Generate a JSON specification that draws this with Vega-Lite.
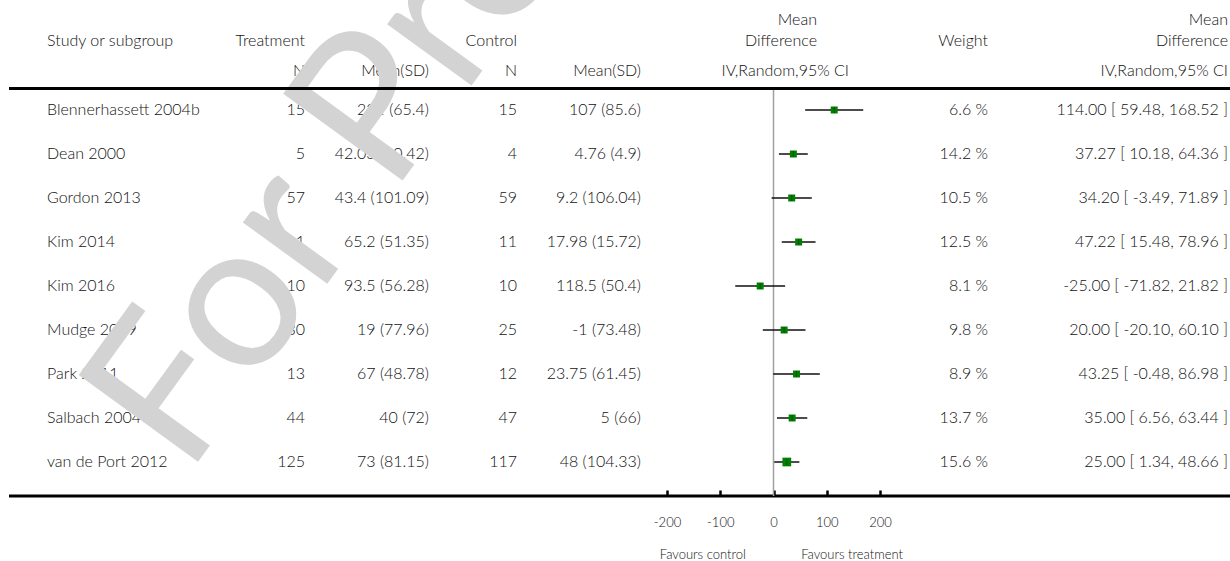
{
  "$schema": "https://vega.github.io/schema/vega-lite/v6.json",
  "width": 1230,
  "height": 561,
  "autosize": {"type": "none"},
  "padding": 0,
  "background": "white",
  "config": {
    "view": {"stroke": null},
    "axisX": {"domain": false, "grid": false, "ticks": true, "tickColor": "#000", "tickWidth": 2.5, "tickSize": 6, "labelFont": "Lato", "labelFontWeight": 300, "labelFontSize": 13, "labelColor": "#111", "labelPadding": 20, "labelFlush": false, "labelOverlap": false, "labelExpr": "'' + datum.value", "title": null}
  },
  "datasets": {
    "studies": [
      {"study": "Blennerhassett 2004b", "tN": "15", "tM": "221 (65.4)", "cN": "15", "cM": "107 (85.6)", "wt": "6.6 %", "ci": "114.00 [ 59.48, 168.52 ]", "md": 114, "lo": 59.48, "hi": 168.52, "w": 6.6},
      {"study": "Dean 2000", "tN": "5", "tM": "42.03 (30.42)", "cN": "4", "cM": "4.76 (4.9)", "wt": "14.2 %", "ci": "37.27 [ 10.18, 64.36 ]", "md": 37.27, "lo": 10.18, "hi": 64.36, "w": 14.2},
      {"study": "Gordon 2013", "tN": "57", "tM": "43.4 (101.09)", "cN": "59", "cM": "9.2 (106.04)", "wt": "10.5 %", "ci": "34.20 [ -3.49, 71.89 ]", "md": 34.2, "lo": -3.49, "hi": 71.89, "w": 10.5},
      {"study": "Kim 2014", "tN": "11", "tM": "65.2 (51.35)", "cN": "11", "cM": "17.98 (15.72)", "wt": "12.5 %", "ci": "47.22 [ 15.48, 78.96 ]", "md": 47.22, "lo": 15.48, "hi": 78.96, "w": 12.5},
      {"study": "Kim 2016", "tN": "10", "tM": "93.5 (56.28)", "cN": "10", "cM": "118.5 (50.4)", "wt": "8.1 %", "ci": "-25.00 [ -71.82, 21.82 ]", "md": -25, "lo": -71.82, "hi": 21.82, "w": 8.1},
      {"study": "Mudge 2009", "tN": "30", "tM": "19 (77.96)", "cN": "25", "cM": "-1 (73.48)", "wt": "9.8 %", "ci": "20.00 [ -20.10, 60.10 ]", "md": 20, "lo": -20.1, "hi": 60.1, "w": 9.8},
      {"study": "Park 2011", "tN": "13", "tM": "67 (48.78)", "cN": "12", "cM": "23.75 (61.45)", "wt": "8.9 %", "ci": "43.25 [ -0.48, 86.98 ]", "md": 43.25, "lo": -0.48, "hi": 86.98, "w": 8.9},
      {"study": "Salbach 2004", "tN": "44", "tM": "40 (72)", "cN": "47", "cM": "5 (66)", "wt": "13.7 %", "ci": "35.00 [ 6.56, 63.44 ]", "md": 35, "lo": 6.56, "hi": 63.44, "w": 13.7},
      {"study": "van de Port 2012", "tN": "125", "tM": "73 (81.15)", "cN": "117", "cM": "48 (104.33)", "wt": "15.6 %", "ci": "25.00 [ 1.34, 48.66 ]", "md": 25, "lo": 1.34, "hi": 48.66, "w": 15.6}
    ],
    "head": [
      {"line": "2", "col": "name", "text": "Study or subgroup"},
      {"line": "2", "col": "tN", "text": "Treatment"},
      {"line": "3", "col": "tN", "text": "N"},
      {"line": "3", "col": "tM", "text": "Mean(SD)"},
      {"line": "2", "col": "cN", "text": "Control"},
      {"line": "3", "col": "cN", "text": "N"},
      {"line": "3", "col": "cM", "text": "Mean(SD)"},
      {"line": "1", "col": "md", "text": "Mean"},
      {"line": "2", "col": "md", "text": "Difference"},
      {"line": "3", "col": "iv", "text": "IV,Random,95% CI"},
      {"line": "2", "col": "wt", "text": "Weight"},
      {"line": "1", "col": "ci", "text": "Mean"},
      {"line": "2", "col": "ci", "text": "Difference"},
      {"line": "3", "col": "ci", "text": "IV,Random,95% CI"}
    ],
    "frame": [{"edge": "top"}, {"edge": "bottom"}],
    "mark": [{"label": "For Preview"}],
    "favours": [{"side": "control", "label": "Favours control"}, {"side": "treatment", "label": "Favours treatment"}]
  },
  "layer": [
    {
      "data": {"name": "head"},
      "transform": [{"filter": "datum.col === 'name'"}],
      "mark": {"type": "text", "align": "left", "baseline": "middle", "font": "Lato", "fontWeight": 300, "fontSize": 16, "color": "#111"},
      "encoding": {
        "x": {"field": "col", "type": "nominal", "scale": {"type": "point", "domain": ["name"], "range": [47, 47], "padding": 0}, "axis": null},
        "y": {"field": "line", "type": "nominal", "scale": {"type": "point", "domain": ["2", "3"], "range": [41, 71], "padding": 0}, "axis": null},
        "text": {"field": "text"}
      }
    },
    {
      "data": {"name": "head"},
      "transform": [{"filter": "datum.col === 'tN' || datum.col === 'tM'"}],
      "mark": {"type": "text", "align": "right", "baseline": "middle", "font": "Lato", "fontWeight": 300, "fontSize": 16, "color": "#111"},
      "encoding": {
        "x": {"field": "col", "type": "nominal", "scale": {"type": "point", "domain": ["tN", "tM"], "range": [305, 429], "padding": 0}, "axis": null},
        "y": {"field": "line", "type": "nominal", "scale": {"type": "point", "domain": ["2", "3"], "range": [41, 71], "padding": 0}, "axis": null},
        "text": {"field": "text"}
      }
    },
    {
      "data": {"name": "head"},
      "transform": [{"filter": "datum.col === 'cN' || datum.col === 'cM'"}],
      "mark": {"type": "text", "align": "right", "baseline": "middle", "font": "Lato", "fontWeight": 300, "fontSize": 16, "color": "#111"},
      "encoding": {
        "x": {"field": "col", "type": "nominal", "scale": {"type": "point", "domain": ["cN", "cM"], "range": [517, 641], "padding": 0}, "axis": null},
        "y": {"field": "line", "type": "nominal", "scale": {"type": "point", "domain": ["2", "3"], "range": [41, 71], "padding": 0}, "axis": null},
        "text": {"field": "text"}
      }
    },
    {
      "data": {"name": "head"},
      "transform": [{"filter": "(datum.col === 'md' || datum.col === 'iv') && datum.line !== '1'"}],
      "mark": {"type": "text", "align": "right", "baseline": "middle", "font": "Lato", "fontWeight": 300, "fontSize": 16, "color": "#111"},
      "encoding": {
        "x": {"field": "col", "type": "nominal", "scale": {"type": "point", "domain": ["md", "iv"], "range": [817, 849], "padding": 0}, "axis": null},
        "y": {"field": "line", "type": "nominal", "scale": {"type": "point", "domain": ["2", "3"], "range": [41, 71], "padding": 0}, "axis": null},
        "text": {"field": "text"}
      }
    },
    {
      "data": {"name": "head"},
      "transform": [{"filter": "(datum.col === 'wt' || datum.col === 'ci') && datum.line !== '1'"}],
      "mark": {"type": "text", "align": "right", "baseline": "middle", "font": "Lato", "fontWeight": 300, "fontSize": 16, "color": "#111"},
      "encoding": {
        "x": {"field": "col", "type": "nominal", "scale": {"type": "point", "domain": ["wt", "ci"], "range": [988, 1228], "padding": 0}, "axis": null},
        "y": {"field": "line", "type": "nominal", "scale": {"type": "point", "domain": ["2", "3"], "range": [41, 71], "padding": 0}, "axis": null},
        "text": {"field": "text"}
      }
    },
    {
      "data": {"name": "head"},
      "transform": [{"filter": "datum.line === '1'"}],
      "mark": {"type": "text", "align": "right", "baseline": "middle", "font": "Lato", "fontWeight": 300, "fontSize": 16, "color": "#111"},
      "encoding": {
        "x": {"field": "col", "type": "nominal", "scale": {"type": "point", "domain": ["md", "ci"], "range": [817, 1228], "padding": 0}, "axis": null},
        "y": {"field": "line", "type": "nominal", "scale": {"type": "point", "domain": ["1"], "range": [20, 20], "padding": 0}, "axis": null},
        "text": {"field": "text"}
      }
    },
    {
      "data": {"name": "studies"},
      "mark": {"type": "text", "align": "left", "baseline": "middle", "font": "Lato", "fontWeight": 300, "fontSize": 16, "color": "#111"},
      "encoding": {
        "x": {"datum": "name", "type": "nominal", "scale": {"type": "point", "domain": ["name"], "range": [47, 47], "padding": 0}, "axis": null},
        "y": {"field": "study", "type": "nominal", "scale": {"type": "point", "domain": ["Blennerhassett 2004b", "Dean 2000", "Gordon 2013", "Kim 2014", "Kim 2016", "Mudge 2009", "Park 2011", "Salbach 2004", "van de Port 2012"], "range": [110, 462], "padding": 0}, "axis": null},
        "text": {"field": "study"}
      }
    },
    {
      "data": {"name": "studies"},
      "transform": [{"fold": ["tN", "tM"], "as": ["col", "txt"]}],
      "mark": {"type": "text", "align": "right", "baseline": "middle", "font": "Lato", "fontWeight": 300, "fontSize": 16, "color": "#111"},
      "encoding": {
        "x": {"field": "col", "type": "nominal", "scale": {"type": "point", "domain": ["tN", "tM"], "range": [305, 429], "padding": 0}, "axis": null},
        "y": {"field": "study", "type": "nominal", "scale": {"type": "point", "domain": ["Blennerhassett 2004b", "Dean 2000", "Gordon 2013", "Kim 2014", "Kim 2016", "Mudge 2009", "Park 2011", "Salbach 2004", "van de Port 2012"], "range": [110, 462], "padding": 0}, "axis": null},
        "text": {"field": "txt"}
      }
    },
    {
      "data": {"name": "studies"},
      "transform": [{"fold": ["cN", "cM"], "as": ["col", "txt"]}],
      "mark": {"type": "text", "align": "right", "baseline": "middle", "font": "Lato", "fontWeight": 300, "fontSize": 16, "color": "#111"},
      "encoding": {
        "x": {"field": "col", "type": "nominal", "scale": {"type": "point", "domain": ["cN", "cM"], "range": [517, 641], "padding": 0}, "axis": null},
        "y": {"field": "study", "type": "nominal", "scale": {"type": "point", "domain": ["Blennerhassett 2004b", "Dean 2000", "Gordon 2013", "Kim 2014", "Kim 2016", "Mudge 2009", "Park 2011", "Salbach 2004", "van de Port 2012"], "range": [110, 462], "padding": 0}, "axis": null},
        "text": {"field": "txt"}
      }
    },
    {
      "data": {"name": "studies"},
      "transform": [{"fold": ["wt", "ci"], "as": ["col", "txt"]}],
      "mark": {"type": "text", "align": "right", "baseline": "middle", "font": "Lato", "fontWeight": 300, "fontSize": 16, "color": "#111"},
      "encoding": {
        "x": {"field": "col", "type": "nominal", "scale": {"type": "point", "domain": ["wt", "ci"], "range": [988, 1228], "padding": 0}, "axis": null},
        "y": {"field": "study", "type": "nominal", "scale": {"type": "point", "domain": ["Blennerhassett 2004b", "Dean 2000", "Gordon 2013", "Kim 2014", "Kim 2016", "Mudge 2009", "Park 2011", "Salbach 2004", "van de Port 2012"], "range": [110, 462], "padding": 0}, "axis": null},
        "text": {"field": "txt"}
      }
    },
    {
      "data": {"name": "mark"},
      "mark": {"type": "text", "align": "left", "baseline": "alphabetic", "angle": -54, "font": "Lato", "fontSize": 206, "color": "#d3d3d3"},
      "encoding": {
        "x": {"datum": "wm", "type": "nominal", "scale": {"type": "point", "domain": ["wm"], "range": [187, 187], "padding": 0}, "axis": null},
        "y": {"datum": "wm", "type": "nominal", "scale": {"type": "point", "domain": ["wm"], "range": [477, 477], "padding": 0}, "axis": null},
        "text": {"field": "label"}
      }
    },
    {
      "data": {"name": "frame"},
      "mark": {"type": "rule", "color": "#000", "strokeWidth": 3},
      "encoding": {
        "x": {"datum": "left", "type": "nominal", "scale": {"type": "point", "domain": ["left", "right"], "range": [9, 1230], "padding": 0}, "axis": null},
        "x2": {"datum": "right"},
        "y": {"field": "edge", "type": "nominal", "scale": {"type": "point", "domain": ["top", "bottom"], "range": [88.5, 496], "padding": 0}, "axis": null}
      }
    },
    {
      "data": {"name": "studies"},
      "layer": [
        {
          "data": {"name": "frame"},
          "transform": [{"filter": "datum.edge === 'top'"}],
          "mark": {"type": "rule", "color": "#a0a0a0", "strokeWidth": 1.5},
          "encoding": {
            "x": {"datum": 0, "type": "quantitative", "scale": {"domain": [-200, 200], "range": [667, 880], "nice": false, "zero": false}, "axis": {"values": [-200, -100, 0, 100, 200], "orient": "bottom", "offset": -71}},
            "y": {"datum": "top", "type": "nominal", "scale": {"type": "point", "domain": ["top", "bottom"], "range": [90, 496], "padding": 0}, "axis": null},
            "y2": {"datum": "bottom"}
          }
        },
        {
          "mark": {"type": "rule", "color": "#111", "strokeWidth": 1.5},
          "encoding": {
            "x": {"field": "lo", "type": "quantitative", "scale": {"domain": [-200, 200], "range": [667, 880], "nice": false, "zero": false}, "axis": {"values": [-200, -100, 0, 100, 200], "orient": "bottom", "offset": -71}},
            "x2": {"field": "hi"},
            "y": {"field": "study", "type": "nominal", "scale": {"type": "point", "domain": ["Blennerhassett 2004b", "Dean 2000", "Gordon 2013", "Kim 2014", "Kim 2016", "Mudge 2009", "Park 2011", "Salbach 2004", "van de Port 2012"], "range": [110, 462], "padding": 0}, "axis": null}
          }
        },
        {
          "mark": {"type": "square", "filled": true, "color": "#008000", "opacity": 1},
          "encoding": {
            "x": {"field": "md", "type": "quantitative", "scale": {"domain": [-200, 200], "range": [667, 880], "nice": false, "zero": false}, "axis": {"values": [-200, -100, 0, 100, 200], "orient": "bottom", "offset": -71}},
            "y": {"field": "study", "type": "nominal", "scale": {"type": "point", "domain": ["Blennerhassett 2004b", "Dean 2000", "Gordon 2013", "Kim 2014", "Kim 2016", "Mudge 2009", "Park 2011", "Salbach 2004", "van de Port 2012"], "range": [110, 462], "padding": 0}, "axis": null},
            "size": {"field": "w", "type": "quantitative", "scale": {"type": "threshold", "domain": [15], "range": [49, 76]}, "legend": null}
          }
        },
        {
          "mark": {"type": "tick", "orient": "vertical", "color": "#0b3b0b", "thickness": 1, "size": 6},
          "encoding": {
            "x": {"field": "md", "type": "quantitative", "scale": {"domain": [-200, 200], "range": [667, 880], "nice": false, "zero": false}, "axis": {"values": [-200, -100, 0, 100, 200], "orient": "bottom", "offset": -71}},
            "y": {"field": "study", "type": "nominal", "scale": {"type": "point", "domain": ["Blennerhassett 2004b", "Dean 2000", "Gordon 2013", "Kim 2014", "Kim 2016", "Mudge 2009", "Park 2011", "Salbach 2004", "van de Port 2012"], "range": [110, 462], "padding": 0}, "axis": null}
          }
        },
        {
          "data": {"name": "favours"},
          "transform": [{"filter": "datum.side === 'control'"}],
          "mark": {"type": "text", "align": "right", "baseline": "middle", "font": "Lato", "fontWeight": 300, "fontSize": 13, "color": "#111"},
          "encoding": {
            "x": {"datum": -52, "type": "quantitative", "scale": {"domain": [-200, 200], "range": [667, 880], "nice": false, "zero": false}, "axis": {"values": [-200, -100, 0, 100, 200], "orient": "bottom", "offset": -71}},
            "y": {"datum": "fav", "type": "nominal", "scale": {"type": "point", "domain": ["fav"], "range": [555, 555], "padding": 0}, "axis": null},
            "text": {"field": "label"}
          }
        },
        {
          "data": {"name": "favours"},
          "transform": [{"filter": "datum.side === 'treatment'"}],
          "mark": {"type": "text", "align": "left", "baseline": "middle", "font": "Lato", "fontWeight": 300, "fontSize": 13, "color": "#111"},
          "encoding": {
            "x": {"datum": 52, "type": "quantitative", "scale": {"domain": [-200, 200], "range": [667, 880], "nice": false, "zero": false}, "axis": {"values": [-200, -100, 0, 100, 200], "orient": "bottom", "offset": -71}},
            "y": {"datum": "fav", "type": "nominal", "scale": {"type": "point", "domain": ["fav"], "range": [555, 555], "padding": 0}, "axis": null},
            "text": {"field": "label"}
          }
        }
      ],
      "resolve": {"scale": {"y": "independent", "size": "independent"}}
    }
  ],
  "resolve": {"scale": {"x": "independent", "y": "independent", "size": "independent"}}
}
